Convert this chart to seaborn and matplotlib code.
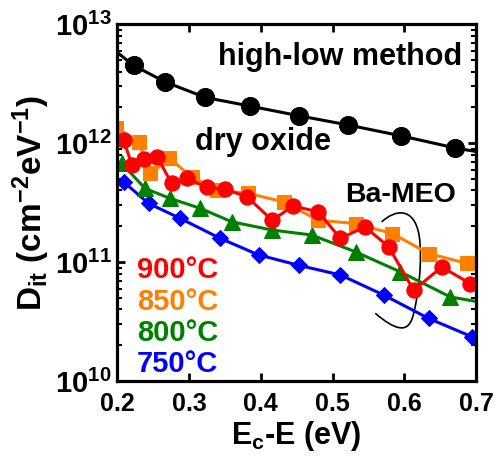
import math
import matplotlib
matplotlib.use("Agg")
import matplotlib.pyplot as plt
import seaborn as sns
from matplotlib.patches import PathPatch
from matplotlib.path import Path
from matplotlib.ticker import FixedLocator, LogLocator, FuncFormatter, NullFormatter

# ---- data ----
hl_x = [0.200, 0.223, 0.267, 0.323, 0.385, 0.453, 0.522, 0.596, 0.671, 0.700]
hl_y = [5.8e12, 4.5e12, 3.27e12, 2.42e12, 2.05e12, 1.70e12, 1.42e12, 1.15e12, 9.1e11, 8.5e11]

t900_x = [0.209, 0.221, 0.237, 0.256, 0.276, 0.298, 0.325, 0.350, 0.381, 0.416,
          0.445, 0.480, 0.511, 0.545, 0.578, 0.613, 0.652, 0.692]
t900_y = [1.06e12, 6.5e11, 7.3e11, 7.67e11, 4.58e11, 5.05e11, 4.24e11, 4.1e11, 3.54e11, 2.25e11,
          2.96e11, 2.65e11, 1.58e11, 1.98e11, 1.35e11, 5.8e10, 9.1e10, 6.6e10]

t850_x = [0.198, 0.230, 0.246, 0.273, 0.304, 0.339, 0.383, 0.432, 0.480, 0.532, 0.583, 0.634, 0.687]
t850_y = [1.35e12, 1.03e12, 5.56e11, 7.44e11, 5.21e11, 4.03e11, 3.78e11, 3.21e11, 2.25e11,
          2.11e11, 1.74e11, 1.18e11, 9.75e10]

t800_x = [0.2065, 0.239, 0.274, 0.316, 0.360, 0.416, 0.471, 0.532, 0.594, 0.664, 0.715]
t800_y = [6.75e11, 4.16e11, 3.43e11, 2.83e11, 2.18e11, 1.86e11, 1.69e11, 1.22e11, 8.3e10, 5.1e10, 4.5e10]

t750_x = [0.209, 0.244, 0.288, 0.344, 0.397, 0.453, 0.511, 0.571, 0.634, 0.694]
t750_y = [4.73e11, 3.11e11, 2.33e11, 1.58e11, 1.15e11, 9.4e10, 7.8e10, 5.3e10, 3.36e10, 2.36e10]

x_ticks = [0.2, 0.3, 0.4, 0.5, 0.6, 0.7]
y_ticks = [1e10, 1e11, 1e12, 1e13]
temp_labels = ["900°C", "850°C", "800°C", "750°C"]
temp_colors = ["#ff0000", "#ff8000", "#008000", "#0000ff"]

# ---- style ----
sns.set_style("ticks")
plt.rcParams["font.family"] = ["Liberation Sans", "DejaVu Sans"]
plt.rcParams["font.weight"] = "bold"
plt.rcParams["mathtext.fontset"] = "custom"
plt.rcParams["mathtext.rm"] = "Liberation Sans:bold"
plt.rcParams["mathtext.bf"] = "Liberation Sans:bold"
plt.rcParams["mathtext.it"] = "Liberation Sans:bold"
plt.rcParams["mathtext.default"] = "bf"
for k in ["text.color", "axes.labelcolor", "xtick.color", "ytick.color", "axes.edgecolor"]:
    plt.rcParams[k] = "black"

fig = plt.figure(figsize=(4.96, 4.74), dpi=100)
ax = fig.add_axes([0.236, 0.196, 0.724, 0.753])

lw = 2.2
sns.lineplot(x=hl_x, y=hl_y, ax=ax, color="black", linewidth=lw, marker="o",
             markersize=13, markeredgecolor="black", markevery=list(range(1, 9)),
             sort=False, estimator=None)
sns.lineplot(x=t750_x, y=t750_y, ax=ax, color=temp_colors[3], linewidth=lw, marker="D",
             markersize=8.5, markeredgecolor=temp_colors[3], sort=False, estimator=None)
sns.lineplot(x=t800_x, y=t800_y, ax=ax, color=temp_colors[2], linewidth=lw, marker="^",
             markersize=12, markeredgecolor=temp_colors[2], sort=False, estimator=None)
sns.lineplot(x=t850_x, y=t850_y, ax=ax, color=temp_colors[1], linewidth=lw, marker="s",
             markersize=10, markeredgecolor=temp_colors[1], sort=False, estimator=None)
sns.lineplot(x=t900_x, y=t900_y, ax=ax, color=temp_colors[0], linewidth=lw, marker="o",
             markersize=11, markeredgecolor=temp_colors[0], sort=False, estimator=None)

ax.set_yscale("log")
ax.set_xlim(0.2, 0.7)
ax.set_ylim(1e10, 1e13)

ax.xaxis.set_major_locator(FixedLocator(x_ticks))
ax.set_xticklabels([f"{v:.1f}" for v in x_ticks])
ax.yaxis.set_major_locator(FixedLocator(y_ticks))
ax.yaxis.set_major_formatter(FuncFormatter(lambda v, p: r"$10^{%d}$" % round(math.log10(v))))
ax.yaxis.set_minor_locator(LogLocator(base=10, subs=range(2, 10)))
ax.yaxis.set_minor_formatter(NullFormatter())

ax.tick_params(axis="both", which="both", direction="in", top=True, right=True, colors="black")
ax.tick_params(axis="both", which="major", length=6, width=2)
ax.tick_params(axis="y", which="minor", length=3.5, width=1.5)
ax.tick_params(axis="x", which="major", labelsize=18, pad=8)
ax.tick_params(axis="y", which="major", labelsize=21, pad=4)
for lab in ax.get_xticklabels() + ax.get_yticklabels():
    lab.set_fontweight("bold")
for s in ax.spines.values():
    s.set_linewidth(2.3)
    s.set_color("black")

ax.set_xlabel(r"E$_c$-E (eV)", fontsize=22, fontweight="bold", labelpad=2)
ax.set_ylabel(r"D$_{it}$ (cm$^{-2}$eV$^{-1}$)", fontsize=24, fontweight="bold", labelpad=2)

ax.text(0.961, 0.885, "high-low method", transform=ax.transAxes, ha="right", va="baseline",
        fontsize=22, fontweight="bold", color="black")
ax.text(0.217, 0.647, "dry oxide", transform=ax.transAxes, ha="left", va="baseline",
        fontsize=22, fontweight="bold", color="black")
ax.text(0.635, 0.502, "Ba-MEO", transform=ax.transAxes, ha="left", va="baseline",
        fontsize=20.5, fontweight="bold", color="black")

label_y = [0.288, 0.199, 0.113, 0.026]
for lab, col, yy in zip(temp_labels, temp_colors, label_y):
    ax.text(0.055, yy, lab, transform=ax.transAxes, ha="left", va="baseline",
            fontsize=21, fontweight="bold", color=col)

# bracket around the Ba-MEO curves (axes-fraction coordinates)
bracket = [(0.737, 0.446), (0.774, 0.481), (0.827, 0.489), (0.841, 0.409),
           (0.852, 0.339), (0.838, 0.227), (0.822, 0.176),
           (0.808, 0.134), (0.774, 0.143), (0.719, 0.190)]
codes = [Path.MOVETO] + [Path.CURVE4] * 9
ax.add_patch(PathPatch(Path(bracket, codes), transform=ax.transAxes, facecolor="none",
                       edgecolor="black", lw=1.2))

fig.savefig("out.png", dpi=100)
